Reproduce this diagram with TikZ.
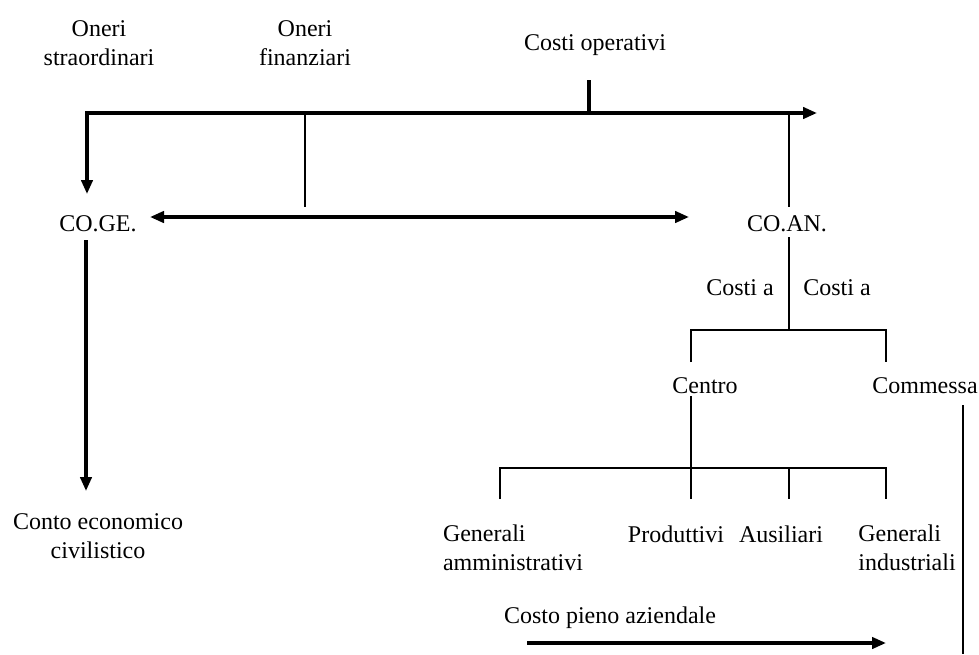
\documentclass[tikz,border=0pt]{standalone}
\usepackage{fontspec}
\setmainfont{Liberation Serif}
\usetikzlibrary{arrows.meta}
\begin{document}
\begin{tikzpicture}[x=0.75pt,y=-0.75pt,
  lbl/.style={inner sep=0pt, font=\fontsize{18}{22}\selectfont, align=center},
  treeline/.style={line width=1.9pt},
  arr/.style={line width=2.5pt, -{Triangle[length=10.5pt,width=8.5pt]}},
  darr/.style={line width=2.5pt, {Triangle[length=10.5pt,width=8.5pt]}-{Triangle[length=10.5pt,width=8.5pt]}}]
\useasboundingbox (0,0) rectangle (979,654);

% labels
\node[lbl] (straord) at (99,43) {Oneri\\straordinari};
\node[lbl] (finanz) at (305,43) {Oneri\\finanziari};
\node[lbl] (costiop) at (595,45) {Costi operativi};
\node[lbl] (coge) at (98,224) {CO.GE.};
\node[lbl] (coan) at (787,224) {CO.AN.};
\node[lbl] (costiA) at (740,288) {Costi a};
\node[lbl] (costiB) at (837,288) {Costi a};
\node[lbl] (centro) at (705,386) {Centro};
\node[lbl] (commessa) at (925,386) {Commessa};
\node[lbl] (conto) at (98,536) {Conto economico\\civilistico};
\node[lbl, align=left] (genamm) at (513,548) {Generali\\amministrativi};
\node[lbl] (prod) at (676,534) {Produttivi};
\node[lbl] (aus) at (781,534) {Ausiliari};
\node[lbl, align=left] (genind) at (907,548) {Generali\\industriali};
\node[lbl] (costopieno) at (610,618) {Costo pieno aziendale};

% junction points
\coordinate (busL) at (87,113);
\coordinate (busR) at (817,113);
\coordinate (opTop) at (589,80);
\coordinate (opBus) at (589,113);
\coordinate (finBus) at (305,113);
\coordinate (finEnd) at (305,207);
\coordinate (coanBus) at (789,113);
\coordinate (coanIn) at (789,207);
\coordinate (cogeIn) at (87,194);
\coordinate (linkL) at (150,217);
\coordinate (linkR) at (689,217);
\coordinate (cogeOut) at (86,240);
\coordinate (contoIn) at (86,491);
\coordinate (coanOut) at (789,237);
\coordinate (coanFork) at (789,330);
\coordinate (forkL) at (691,330);
\coordinate (forkR) at (886,330);
\coordinate (centroIn) at (691,362);
\coordinate (commIn) at (886,362);
\coordinate (centroOut) at (691,396);
\coordinate (centroFork) at (691,468);
\coordinate (fork2L) at (500,468);
\coordinate (fork2R) at (886,468);
\coordinate (ausFork) at (789,468);
\coordinate (genammIn) at (500,499);
\coordinate (prodIn) at (691,499);
\coordinate (ausIn) at (789,499);
\coordinate (genindIn) at (886,499);
\coordinate (commTop) at (963,405);
\coordinate (commBot) at (963,654);
\coordinate (pienoL) at (527,643);
\coordinate (pienoR) at (886,643);

% top bus, arrowed at both ends, and its branches
\draw[darr, line join=miter] (cogeIn) -- (busL) -- (busR);
\draw[line width=3.4pt] (opTop) -- (opBus);
\draw[treeline] (finBus) -- (finEnd);
\draw[treeline] (coanBus) -- (coanIn);

% link between the two accountings
\draw[darr] (linkL) -- (linkR);
\draw[arr] (cogeOut) -- (contoIn);

% analytical accounting tree
\draw[treeline] (coanOut) -- (coanFork);
\draw[treeline] (centroIn) -- (forkL) -- (forkR) -- (commIn);
\draw[treeline] (centroOut) -- (centroFork);
\draw[treeline] (genammIn) -- (fork2L) -- (fork2R) -- (genindIn);
\draw[treeline] (centroFork) -- (prodIn);
\draw[treeline] (ausFork) -- (ausIn);
\draw[treeline] (commTop) -- (commBot);
\draw[arr] (pienoL) -- (pienoR);
\end{tikzpicture}
\end{document}
